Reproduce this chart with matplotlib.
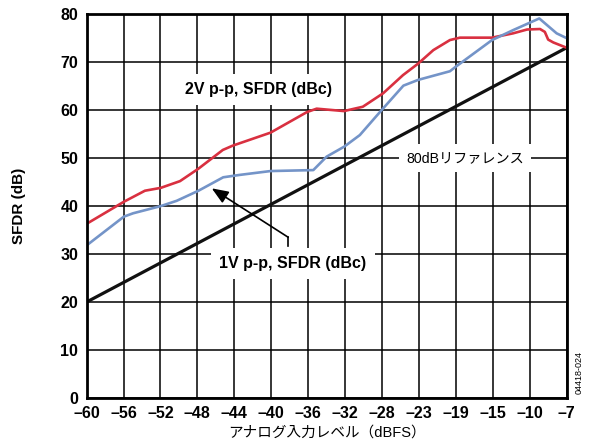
import numpy as np
import matplotlib
matplotlib.use("Agg")
import matplotlib.pyplot as plt

plt.rcParams['font.family'] = ['Liberation Sans', 'Noto Sans CJK JP', 'DejaVu Sans']

# Input level tick labels (dBFS); the grid places them at equal spacing
x_ticks = [-60, -56, -52, -48, -44, -40, -36, -32, -28, -23, -19, -15, -10, -7]
y_ticks = [0, 10, 20, 30, 40, 50, 60, 70, 80]

# 80 dB reference: SFDR = input level + 80, straight between the axis ends
ref_pos = [0, len(x_ticks) - 1]
ref_sfdr = [x_ticks[0] + 80, x_ticks[-1] + 80]

# 2V p-p SFDR (dBc), positions in tick-grid units
red_pos = [0.0, 1.01, 1.58, 2.01, 2.53, 3.03, 3.69, 3.96, 4.98, 5.97, 6.23,
           6.97, 7.48, 8.03, 8.57, 8.98, 9.39, 9.84, 10.11, 10.98, 11.55,
           11.93, 12.28, 12.41, 12.50, 12.64, 13.0]
red_sfdr = [36.3, 40.9, 43.2, 43.8, 45.2, 47.8, 51.7, 52.6, 55.3, 59.6, 60.3,
            59.8, 60.7, 63.5, 67.3, 69.7, 72.5, 74.6, 75.1, 75.1, 76.0,
            76.8, 76.9, 76.3, 74.7, 74.1, 73.0]

# 1V p-p SFDR (dBc)
blue_pos = [0.0, 1.01, 1.26, 2.01, 2.44, 3.03, 3.70, 4.15, 4.98, 6.14, 6.50,
            6.98, 7.40, 7.99, 8.58, 8.98, 9.84, 9.99, 10.98, 11.56, 12.26,
            12.73, 13.0]
blue_sfdr = [31.8, 37.8, 38.5, 40.0, 41.1, 43.2, 46.0, 46.5, 47.3, 47.5, 50.3,
             52.4, 54.8, 60.0, 65.1, 66.3, 68.1, 69.0, 74.6, 76.7, 79.1,
             76.0, 75.0]

fig = plt.figure(figsize=(5.89, 4.42), dpi=100)
ax = fig.add_axes([0.147, 0.0995, 0.815, 0.8685])

ax.set_xlim(0, len(x_ticks) - 1)
ax.set_ylim(0, 80)
ax.set_xticks(range(len(x_ticks)))
ax.set_xticklabels([f"\u2013{abs(t)}" for t in x_ticks])
ax.set_yticks(y_ticks)
ax.set_yticklabels([str(t) for t in y_ticks])
ax.grid(True, color='black', linewidth=1.1, zorder=0)
ax.set_axisbelow(True)
ax.tick_params(length=0, pad=6, labelsize=11.5)
for lab in ax.get_xticklabels() + ax.get_yticklabels():
    lab.set_fontweight('bold')
for s in ax.spines.values():
    s.set_linewidth(2.0)
    s.set_zorder(5)

box = dict(boxstyle='square,pad=0.5', facecolor='white', edgecolor='none')

ax.plot(ref_pos, ref_sfdr, color='#111111', linewidth=2.3, zorder=3)
ax.plot(red_pos, red_sfdr, color='#d93040', linewidth=1.9, zorder=4)
ax.plot(blue_pos, blue_sfdr, color='#7494c8', linewidth=1.9, zorder=4)

ax.text(4.65, 64.2, "2V p-p, SFDR (dBc)", fontsize=11.5, fontweight='bold',
        ha='center', va='center', bbox=box, zorder=6)
ax.text(10.25, 50.0, "80dBリファレンス", fontsize=10.2,
        ha='center', va='center', bbox=box, zorder=6)
ax.text(5.59, 28.0, "1V p-p, SFDR (dBc)", fontsize=11.5, fontweight='bold',
        ha='center', va='center', bbox=box, zorder=6)

# leader from the 1V label to its curve
ax.plot([5.46, 5.46], [31.7, 33.5], color='black', linewidth=1.2, zorder=7)
ax.annotate("", xy=(3.39, 43.7), xytext=(5.46, 33.5),
            arrowprops=dict(arrowstyle='-|>,head_length=1.0,head_width=0.4',
                            color='black', linewidth=1.2, shrinkA=0, shrinkB=0),
            zorder=7)

ax.set_ylabel("SFDR (dB)", fontsize=11, fontweight='bold', labelpad=25)
ax.set_xlabel("アナログ入力レベル（dBFS）", fontsize=10.5, labelpad=3)

fig.text(0.983, 0.158, "04418-024", rotation=90, fontsize=6.5,
         ha='center', va='center')

fig.savefig("out.png", dpi=100)
